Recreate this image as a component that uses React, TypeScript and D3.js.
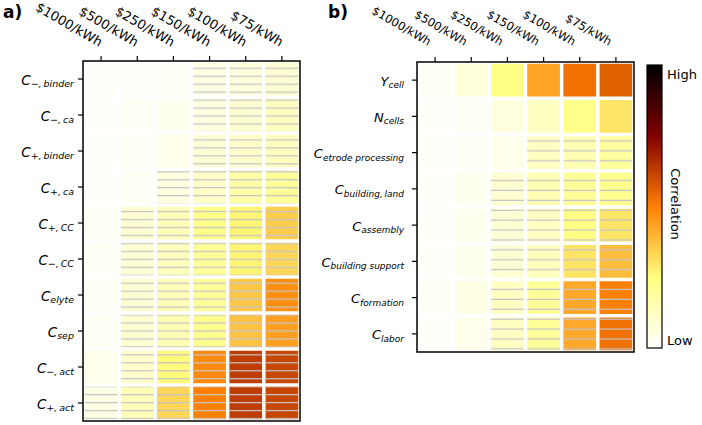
import React from "react";
import * as d3 from "d3";

const costLabels = ["$1000/kWh", "$500/kWh", "$250/kWh", "$150/kWh", "$100/kWh", "$75/kWh"];

const aMain = ["C", "C", "C", "C", "C", "C", "C", "C", "C", "C"];
const aSubs = ["−,\u2009binder", "−,\u2009ca", "+,\u2009binder", "+,\u2009ca", "+,\u2009CC", "−,\u2009CC", "elyte", "sep", "−,\u2009act", "+,\u2009act"];
const aValues = [
  [0.01, 0.01, 0.02, 0.05, 0.07, 0.09],
  [0.01, 0.02, 0.03, 0.06, 0.09, 0.13],
  [0.01, 0.02, 0.04, 0.08, 0.1, 0.13],
  [0.01, 0.02, 0.06, 0.11, 0.17, 0.2],
  [0.02, 0.09, 0.14, 0.23, 0.27, 0.35],
  [0.02, 0.08, 0.13, 0.2, 0.27, 0.33],
  [0.02, 0.09, 0.14, 0.2, 0.36, 0.47],
  [0.02, 0.09, 0.15, 0.22, 0.37, 0.44],
  [0.04, 0.1, 0.26, 0.48, 0.63, 0.61],
  [0.05, 0.14, 0.33, 0.5, 0.63, 0.61],
];
const aHatch = [
  [0, 0, 0, 1, 1, 1],
  [0, 0, 0, 1, 1, 1],
  [0, 0, 0, 1, 1, 1],
  [0, 0, 1, 1, 1, 1],
  [0, 1, 1, 1, 1, 1],
  [0, 1, 1, 1, 1, 1],
  [0, 1, 1, 1, 1, 1],
  [0, 1, 1, 1, 1, 1],
  [0, 1, 1, 1, 1, 1],
  [1, 1, 1, 1, 1, 1],
];

const bMain = ["Y", "N", "C", "C", "C", "C", "C", "C"];
const bSubs = ["cell", "cells", "etrode processing", "building,\u2009land", "assembly", "building support", "formation", "labor"];
const bValues = [
  [0.02, 0.07, 0.24, 0.43, 0.53, 0.56],
  [0.01, 0.02, 0.06, 0.12, 0.23, 0.3],
  [0.01, 0.02, 0.04, 0.12, 0.15, 0.19],
  [0.01, 0.03, 0.09, 0.15, 0.2, 0.22],
  [0.01, 0.03, 0.08, 0.12, 0.24, 0.3],
  [0.01, 0.03, 0.08, 0.13, 0.3, 0.38],
  [0.02, 0.05, 0.12, 0.2, 0.42, 0.5],
  [0.01, 0.04, 0.12, 0.2, 0.42, 0.53],
];
const bHatch = [
  [0, 0, 0, 0, 0, 0],
  [0, 0, 0, 0, 0, 0],
  [0, 0, 0, 1, 1, 1],
  [0, 0, 1, 1, 1, 1],
  [0, 0, 1, 1, 1, 1],
  [0, 0, 1, 1, 1, 1],
  [0, 0, 1, 1, 1, 1],
  [0, 0, 1, 1, 1, 1],
];

const clamp = (v: number) => Math.max(0, Math.min(1, v));
const afmhotR = (t: number) => {
  const x = 1 - t;
  return d3.rgb(clamp(2 * x) * 255, clamp(2 * x - 0.5) * 255, clamp(2 * x - 1) * 255).formatHex();
};
const color = d3.scaleSequential(afmhotR).domain([0, 1]);

const FONT = "DejaVu Sans";

function Panel(props: {
  x0: number; x1: number; y0: number; y1: number;
  main: string[]; subs: string[]; values: number[][]; hatch: number[][];
  hatchId: string; labelDx: number; labelY: number; colFont: number; rowLabelX: number;
  mainFont: number; subFont: number;
}) {
  const { x0, x1, y0, y1, main, subs, values, hatch, hatchId, labelDx, labelY, colFont, rowLabelX, mainFont, subFont } = props;
  const x = d3.scaleBand<number>().domain(d3.range(costLabels.length)).range([x0, x1]);
  const y = d3.scaleBand<number>().domain(d3.range(main.length)).range([y0, y1]);
  const gap = 3.5;
  return (
    <g>
      {values.map((row, i) =>
        row.map((v, j) => {
          const rx = (x(j) as number) + gap / 2;
          const ry = (y(i) as number) + gap / 2;
          const w = x.bandwidth() - gap;
          const h = y.bandwidth() - gap;
          return (
            <g key={`${i}-${j}`}>
              <rect x={rx} y={ry} width={w} height={h} fill={color(v)} />
              {hatch[i][j] ? <rect x={rx} y={ry} width={w} height={h} fill={`url(#${hatchId})`} /> : null}
            </g>
          );
        })
      )}
      <rect x={x0} y={y0} width={x1 - x0} height={y1 - y0} fill="none" stroke="#000" strokeWidth={1.5} />
      {costLabels.map((c, j) => {
        const cx = (x(j) as number) + x.bandwidth() / 2;
        return (
          <g key={c}>
            <line x1={cx} x2={cx} y1={y0} y2={y0 - 5} stroke="#000" strokeWidth={1.2} />
            <text
              transform={`translate(${cx + labelDx},${labelY}) rotate(30)`}
              textAnchor="end"
              fontFamily={FONT}
              fontSize={colFont}
              fill="#000"
            >
              {c}
            </text>
          </g>
        );
      })}
      {main.map((m, i) => {
        const cy = (y(i) as number) + y.bandwidth() / 2;
        return (
          <g key={i}>
            <line x1={x0} x2={x0 - 5} y1={cy} y2={cy} stroke="#000" strokeWidth={1.2} />
            <text x={rowLabelX} y={cy + 5.5} textAnchor="end" fontFamily={FONT} fontStyle="italic" fontSize={mainFont} fill="#000">
              {m}
              <tspan fontSize={subFont} dy={2.5}>{subs[i]}</tspan>
            </text>
          </g>
        );
      })}
    </g>
  );
}

export default function App() {
  const cb = { x: 647, y: 65, w: 15, h: 283 };
  const stops = d3.range(0, 1.0001, 0.05);
  return (
    <svg width={702} height={425} style={{ position: "absolute", left: 0, top: 0, background: "#fff" }}>
      <defs>
        <pattern id="hatchA" patternUnits="userSpaceOnUse" width={60} height={7.96}>
          <line x1={0} x2={60} y1={4.6} y2={4.6} stroke="#c4c4c8" strokeWidth={1.3} />
        </pattern>
        <pattern id="hatchB" patternUnits="userSpaceOnUse" width={60} height={9.9}>
          <line x1={0} x2={60} y1={2.4} y2={2.4} stroke="#c4c4c8" strokeWidth={1.3} />
        </pattern>
        <linearGradient id="cbar" x1="0" y1="1" x2="0" y2="0">
          {stops.map((s) => (
            <stop key={s} offset={s} stopColor={color(s)} />
          ))}
        </linearGradient>
      </defs>
      <text x={3} y={18} fontFamily={FONT} fontWeight="bold" fontSize={17}>a)</text>
      <text x={328} y={18} fontFamily={FONT} fontWeight="bold" fontSize={17}>b)</text>
      <Panel x0={83} x1={300} y0={61} y1={421} main={aMain} subs={aSubs} values={aValues} hatch={aHatch}
        hatchId="hatchA" labelDx={-2} labelY={47} colFont={13} rowLabelX={74} mainFont={13.5} subFont={9.5} />
      <Panel x0={417} x1={634} y0={62} y1={352} main={bMain} subs={bSubs} values={bValues} hatch={bHatch}
        hatchId="hatchB" labelDx={-7} labelY={46} colFont={11.5} rowLabelX={404} mainFont={13} subFont={9} />
      <rect x={cb.x} y={cb.y} width={cb.w} height={cb.h} fill="url(#cbar)" stroke="#000" strokeWidth={1.2} />
      <text x={667} y={79} fontFamily={FONT} fontSize={13}>High</text>
      <text x={667} y={345} fontFamily={FONT} fontSize={13}>Low</text>
      <text transform="translate(671,204) rotate(90)" textAnchor="middle" fontFamily={FONT} fontSize={13}>Correlation</text>
    </svg>
  );
}
